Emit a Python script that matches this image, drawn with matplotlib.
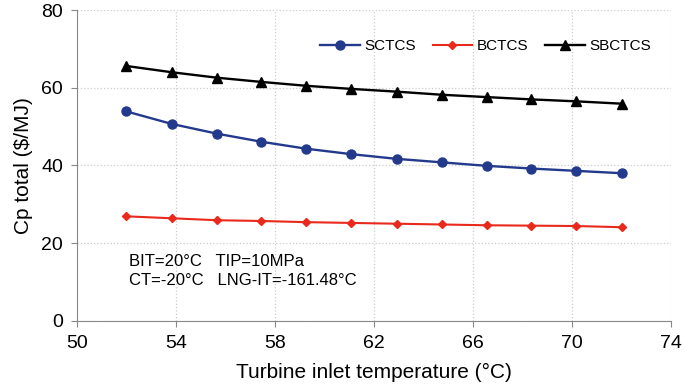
import matplotlib
matplotlib.use("Agg")
import matplotlib.pyplot as plt
from matplotlib import font_manager

temps = [52.0, 53.82, 55.64, 57.45, 59.27, 61.09, 62.91, 64.73, 66.55, 68.36, 70.18, 72.0]
sctcs = [53.9, 50.7, 48.2, 46.1, 44.3, 42.9, 41.7, 40.8, 39.9, 39.2, 38.6, 38.0]
bctcs = [26.9, 26.4, 25.9, 25.7, 25.4, 25.2, 25.0, 24.8, 24.6, 24.5, 24.4, 24.1]
sbctcs = [65.6, 64.0, 62.6, 61.5, 60.5, 59.7, 59.0, 58.2, 57.6, 57.0, 56.5, 55.9]
xticks = [50, 54, 58, 62, 66, 70, 74]
yticks = [0, 20, 40, 60, 80]

names = {f.name for f in font_manager.fontManager.ttflist}
fam = "Liberation Sans Narrow" if "Liberation Sans Narrow" in names else "Liberation Sans"
plt.rcParams['font.family'] = [fam, 'DejaVu Sans']

fig = plt.figure(figsize=(6.85, 3.87), dpi=100)
ax = fig.add_axes([0.1124, 0.171, 0.8672, 0.803])

ax.plot(temps, sctcs, color='#233a8c', marker='o', markersize=6.5, lw=1.7, label='SCTCS')
ax.plot(temps, bctcs, color='#e8291c', marker='D', markersize=4.5, lw=1.5, label='BCTCS')
ax.plot(temps, sbctcs, color='black', marker='^', markersize=7, lw=1.7, label='SBCTCS')

ax.set_xlim(50, 74)
ax.set_ylim(0, 80)
ax.set_xticks(xticks)
ax.set_yticks(yticks)
ax.tick_params(labelsize=14, length=4, color='#888888', pad=6)
ax.grid(True, color='#cccccc', linestyle=':', linewidth=0.9)
ax.set_axisbelow(True)
for s in ['top', 'right']:
    ax.spines[s].set_visible(False)
for s in ['left', 'bottom']:
    ax.spines[s].set_color('#888888')

ax.set_xlabel('Turbine inlet temperature (°C)', fontsize=15, labelpad=8)
ax.set_ylabel('Cp total ($/MJ)', fontsize=15, labelpad=6)

ax.legend(loc='upper right', ncol=3, frameon=False, fontsize=11, bbox_to_anchor=(0.99, 0.95),
          handlelength=2.6, columnspacing=1.1, handletextpad=0.3)

ax.text(52.1, 14.0, 'BIT=20°C   TIP=10MPa', fontsize=12)
ax.text(52.1, 9.3, 'CT=-20°C   LNG-IT=-161.48°C', fontsize=12)

fig.savefig('out.png', dpi=100)
